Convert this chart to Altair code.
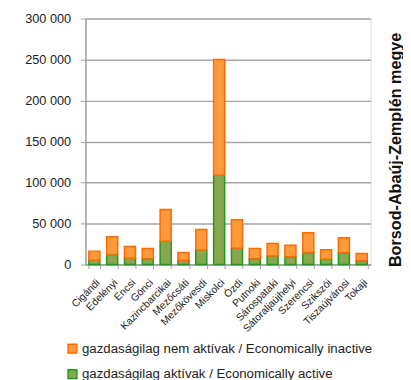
import altair as alt
import pandas as pd

categories = ["Cigándi", "Edelényi", "Encsi", "Gönci", "Kazincbarcikai", "Mezőcsáti",
              "Mezőkövesdi", "Miskolci", "Ózdi", "Putnoki", "Sárospataki",
              "Sátoraljaújhelyi", "Szerencsi", "Szikszói", "Tiszaújvárosi", "Tokaji"]
active = [5200, 12000, 7600, 7200, 28400, 5200, 17600, 109000, 20000, 7200, 10400,
          9600, 14800, 6400, 14400, 4800]
inactive = [11200, 22000, 14400, 12400, 38800, 9600, 25200, 141000, 34800, 12400, 15200,
            14000, 24000, 11600, 18400, 8800]
series = ["gazdaságilag nem aktívak / Economically inactive",
          "gazdaságilag aktívak / Economically active"]
side_title = "Borsod-Abaúj-Zemplén megye"

rows = []
for c, a, i in zip(categories, active, inactive):
    rows.append({"cat": c, "series": series[1], "value": a, "ord": 0})
    rows.append({"cat": c, "series": series[0], "value": i, "ord": 1})
df = pd.DataFrame(rows)

FONT = "Liberation Sans"
W, H = 291, 251

bars = alt.Chart(df).mark_bar(strokeWidth=1.5).encode(
    x=alt.X("cat:N", sort=categories, title=None,
            scale=alt.Scale(paddingInner=0.38, paddingOuter=0.19),
            axis=alt.Axis(labelAngle=-45, labelFontSize=10.5, labelColor="#222222",
                          labelFont=FONT, tickBand="extent", tickSize=4,
                          tickColor="#A0A0A0", domainColor="#A0A0A0",
                          domainWidth=1.5, labelPadding=9, grid=False)),
    y=alt.Y("value:Q", stack="zero", title=None,
            scale=alt.Scale(domain=[0, 300000], nice=False),
            axis=alt.Axis(values=[0, 50000, 100000, 150000, 200000, 250000, 300000],
                          labelExpr="datum.value >= 1000 ? floor(datum.value/1000) + ' 000' : '0'",
                          labelFontSize=13, labelFont=FONT, labelColor="#222222",
                          tickSize=5, tickColor="#A0A0A0", domainColor="#A0A0A0",
                          domainWidth=1.5, labelPadding=10,
                          gridColor="#A6A6A6", gridWidth=1.5)),
    order=alt.Order("ord:Q"),
    fill=alt.Color("series:N",
                   scale=alt.Scale(domain=series, range=["#FF9A3C", "#8AA64E"]),
                   legend=alt.Legend(orient="none", legendX=-20, legendY=330, title=None,
                                     symbolType="square", symbolSize=80,
                                     symbolStrokeWidth=1.5, labelFontSize=13.5,
                                     labelFont=FONT, labelColor="#222222",
                                     rowPadding=10, labelOffset=3, labelLimit=400)),
    stroke=alt.Color("series:N",
                     scale=alt.Scale(domain=series, range=["#FF6A00", "#1E9A1E"]),
                     legend=None),
)

side = alt.Chart(pd.DataFrame({"t": [side_title]})).mark_text(
    angle=270, fontSize=16.5, fontWeight="bold", font=FONT, color="#111111",
    align="center", baseline="middle"
).encode(text="t:N", x=alt.value(317), y=alt.value(134))

chart = alt.layer(bars, side).properties(
    width=W, height=H,
    autosize=alt.AutoSizeParams(type="none"),
    padding={"left": 79, "top": 7, "right": 33, "bottom": 114},
).configure_view(stroke=None).configure(background="white")

chart.save("out.html", embed_options={"renderer": "svg", "actions": False})
